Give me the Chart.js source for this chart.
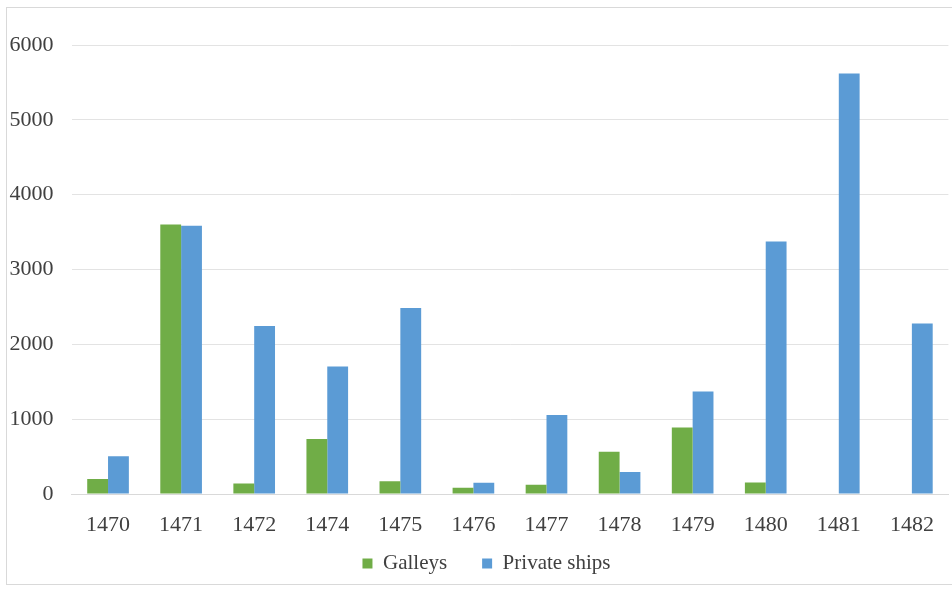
<!DOCTYPE html>
<html>
<head>
<meta charset="utf-8">
<script src="https://cdn.jsdelivr.net/npm/chart.js@4.4.1/dist/chart.umd.min.js"></script>
<style>
  html, body { margin: 0; padding: 0; background: #ffffff; }
  #wrap { position: relative; width: 952px; height: 589px; overflow: hidden; }
  #frame {
    position: absolute; left: 6px; top: 7px; width: 980px; height: 576px;
    border: 1px solid #d9d9d9; pointer-events: none;
  }
  canvas { position: absolute; left: 0; top: 0; }
</style>
</head>
<body>
<div id="wrap">
  <canvas id="chart" width="952" height="589"></canvas>
  <div id="frame"></div>
</div>
<script>
// Ships per year: state galleys vs private ships
const years = ['1470', '1471', '1472', '1474', '1475', '1476', '1477', '1478', '1479', '1480', '1481', '1482'];
const galleys = [200, 3600, 140, 735, 170, 85, 125, 565, 890, 155, 0, 0];
const privateShips = [505, 3585, 2245, 1705, 2485, 150, 1055, 295, 1370, 3375, 5620, 2280];
const yTicks = [0, 1000, 2000, 3000, 4000, 5000, 6000];

const FONT = "'Liberation Serif', 'Times New Roman', serif";

// Pull the legend up closer to the category labels while keeping wide gaps between its items
const legendLift = {
  id: 'legendLift',
  afterLayout(chart) {
    const lg = chart.legend;
    if (!lg) return;
    const h = lg.height;
    lg.top = chart.chartArea.bottom + 24;
    lg.bottom = lg.top + h;
    lg.left += 12;
    lg.right += 12;
  }
};

new Chart(document.getElementById('chart'), {
  type: 'bar',
  data: {
    labels: years,
    datasets: [
      { label: 'Galleys', data: galleys, backgroundColor: '#70ad47', borderWidth: 0 },
      { label: 'Private ships', data: privateShips, backgroundColor: '#5b9bd5', borderWidth: 0 }
    ]
  },
  plugins: [legendLift],
  options: {
    responsive: false,
    animation: false,
    events: [],
    layout: { padding: { top: 45, right: 3, left: 0, bottom: -11 } },
    datasets: { bar: { categoryPercentage: 0.57, barPercentage: 1.0 } },
    plugins: {
      tooltip: { enabled: false },
      legend: {
        position: 'bottom',
        labels: {
          font: { family: FONT, size: 21 },
          color: '#404040',
          boxWidth: 10,
          boxHeight: 10,
          padding: 35
        }
      }
    },
    scales: {
      x: {
        afterFit: (scale) => { scale.height = 40; },
        grid: { display: false, drawTicks: false },
        border: { display: true, color: '#d9d9d9', width: 1 },
        ticks: { font: { family: FONT, size: 22 }, color: '#404040', padding: 18, maxRotation: 0 }
      },
      y: {
        min: 0,
        max: 6000,
        afterBuildTicks: (scale) => { scale.ticks = yTicks.map(v => ({ value: v })); },
        afterFit: (scale) => { scale.width = 71.5; },
        grid: { color: '#e3e3e3', lineWidth: 1, drawTicks: false },
        border: { display: false },
        ticks: {
          font: { family: FONT, size: 22 },
          color: '#404040',
          padding: 18,
          callback: (v) => String(v)
        }
      }
    }
  }
});
</script>
</body>
</html>
